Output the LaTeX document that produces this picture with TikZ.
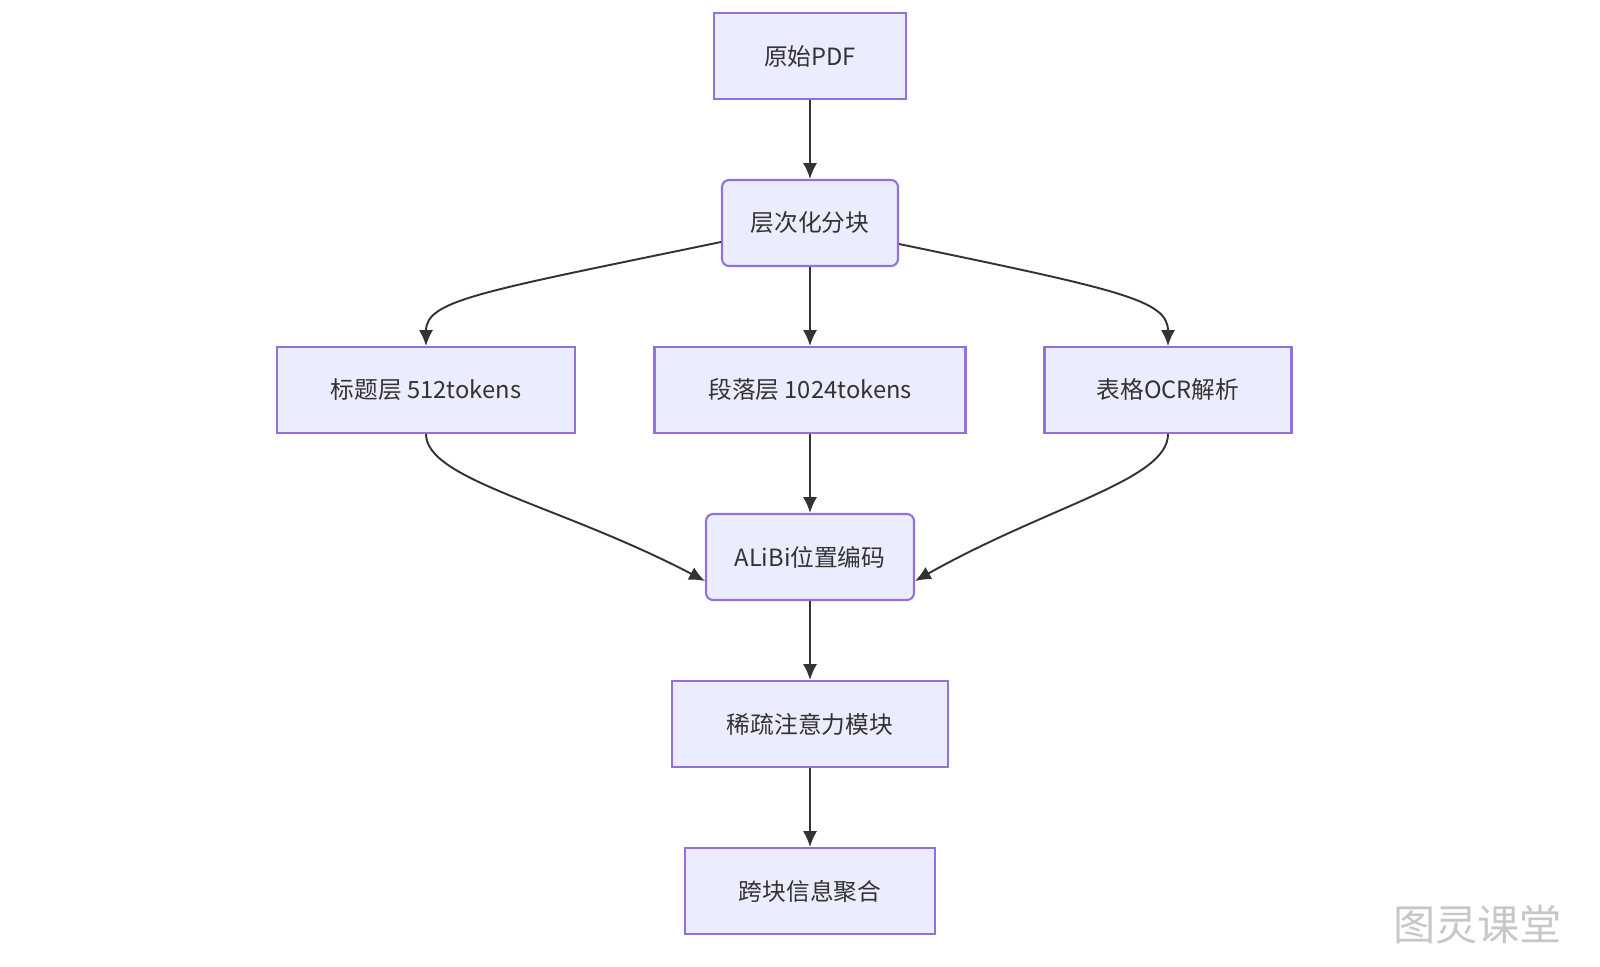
\documentclass[tikz,border=0pt]{standalone}
\usepackage{fontspec}
\setmainfont{Noto Sans CJK SC}
\usetikzlibrary{arrows.meta}
\definecolor{nfill}{HTML}{ECECFF}
\definecolor{nstroke}{HTML}{9370DB}
\definecolor{txt}{HTML}{333333}
\begin{document}
\begin{tikzpicture}[x=0.02cm,y=-0.02cm,
  box/.style={draw=nstroke,fill=nfill,line width=1.2pt,minimum height=1.72cm,text=txt,font=\fontsize{13.5}{16}\selectfont,inner sep=0pt},
  rbox/.style={box,rounded corners=4pt},
  arr/.style={draw=txt,line width=1.1pt,-{Latex[length=9pt,width=8pt]}}]
\useasboundingbox (0,0) rectangle (1600,967);
\node[box,minimum width=3.84cm] (a) at (810,56) {原始PDF};
\node[rbox,minimum width=3.52cm] (b) at (810,223) {层次化分块};
\node[box,minimum width=5.96cm] (c) at (426,390) {标题层 512tokens};
\node[box,minimum width=6.22cm] (d) at (810,390) {段落层 1024tokens};
\node[box,minimum width=4.94cm] (e) at (1168,390) {表格OCR解析};
\node[rbox,minimum width=4.16cm] (f) at (810,557) {ALiBi位置编码};
\node[box,minimum width=5.52cm] (g) at (810,724) {稀疏注意力模块};
\node[box,minimum width=5.0cm] (h) at (810,891) {跨块信息聚合};
\draw[arr] (a) -- (b);
\draw[arr] (b) -- (d);
\draw[arr] (d) -- (f);
\draw[arr] (f) -- (g);
\draw[arr] (g) -- (h);
\draw[arr] ([yshift=-0.38cm]b.west) .. controls (480,292) and (426,300) .. (c.north);
\draw[arr] ([yshift=-0.42cm]b.east) .. controls (1120,290) and (1168,300) .. (e.north);
\draw[arr] (c.south) .. controls (426,480) and (560,505) .. ([yshift=-0.48cm]f.west);
\draw[arr] (e.south) .. controls (1168,480) and (1050,505) .. ([yshift=-0.48cm]f.east);
\node[text=black!22,font=\fontsize{24}{28}\selectfont,anchor=east] (w) at (1568,925) {图灵课堂};
\end{tikzpicture}
\end{document}
